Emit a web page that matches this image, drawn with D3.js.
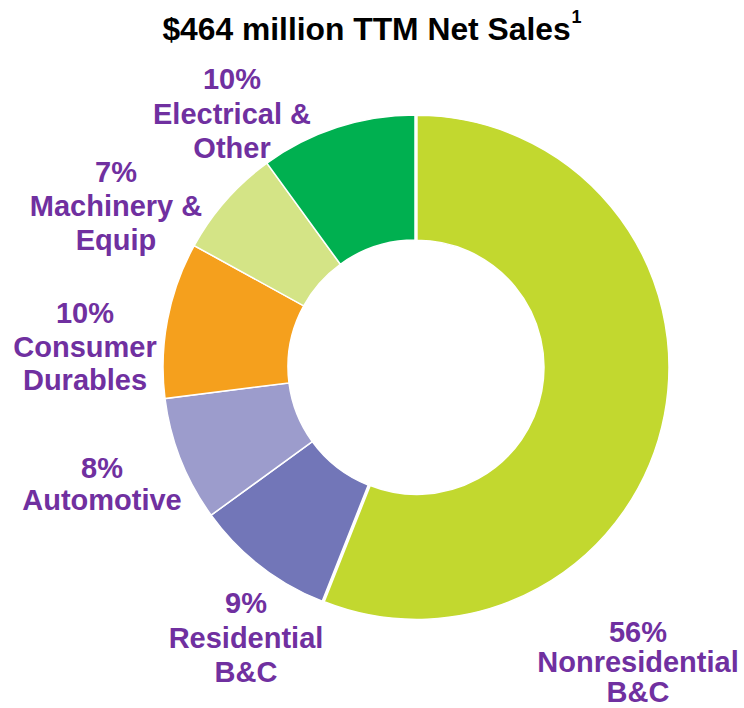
<!DOCTYPE html>
<html>
<head>
<meta charset="utf-8">
<script src="https://cdn.jsdelivr.net/npm/d3@7"></script>
<style>
  html, body { margin: 0; padding: 0; background: #fff; }
  svg { display: block; }
  text { font-family: "Liberation Sans", Arial, Helvetica, sans-serif; font-weight: bold; }
</style>
</head>
<body>
<script>
// ---- data ----
const categories = ["Nonresidential B&C", "Residential B&C", "Automotive", "Consumer Durables", "Machinery & Equip", "Electrical & Other"];
const shares = [56, 9, 8, 10, 7, 10];
const labelLines = [
  ["56%", "Nonresidential", "B&C"],
  ["9%", "Residential", "B&C"],
  ["8%", "Automotive"],
  ["10%", "Consumer", "Durables"],
  ["7%", "Machinery &", "Equip"],
  ["10%", "Electrical &", "Other"]
];
const colors = ["#c2d82f", "#7276b8", "#9c9ccc", "#f5a01d", "#d4e486", "#00b050"];
const titleText = "$464 million TTM Net Sales";
const titleNote = "1";

// ---- layout (not data) ----
const W = 744, H = 708;
const cx = 415, cy = 367, R = 252, r = 127;
const explode = [2, 0, 0, 0, 0, 0];
// label anchor: [centerX, first baseline, line spacing]
const labelPos = [
  [638, 641.5, 30],
  [246, 613, 34.5],
  [102, 478, 32],
  [85, 323, 33.5],
  [116, 182, 34],
  [232, 89, 34.5]
];

const svg = d3.select("body").append("svg").attr("width", W).attr("height", H);

// title
const title = svg.append("text")
  .attr("x", 372).attr("y", 40)
  .attr("text-anchor", "middle")
  .attr("font-size", 31.8).attr("fill", "#000");
title.append("tspan").text(titleText);
title.append("tspan").attr("font-size", 18).attr("dy", -17).attr("dx", 1).text(titleNote);

// donut
const pie = d3.pie().sort(null).value(d => d).startAngle(0).endAngle(2 * Math.PI);
const arcs = pie(shares);
const arc = d3.arc().innerRadius(r).outerRadius(R);

const g = svg.append("g").attr("transform", `translate(${cx},${cy})`);
g.selectAll("path").data(arcs).join("path")
  .attr("d", arc)
  .attr("fill", (d, i) => colors[i])
  .attr("stroke", "#fff")
  .attr("stroke-width", 1.5)
  .attr("transform", (d, i) => {
    const a = (d.startAngle + d.endAngle) / 2;
    return `translate(${explode[i] * Math.sin(a)},${-explode[i] * Math.cos(a)})`;
  });

// labels
labelLines.forEach((lines, i) => {
  const [x, y0, dy] = labelPos[i];
  const t = svg.append("text")
    .attr("text-anchor", "middle")
    .attr("font-size", 29)
    .attr("fill", "#7030a0");
  lines.forEach((ln, k) => {
    t.append("tspan").attr("x", x).attr("y", y0 + k * dy).text(ln);
  });
});
</script>
</body>
</html>
